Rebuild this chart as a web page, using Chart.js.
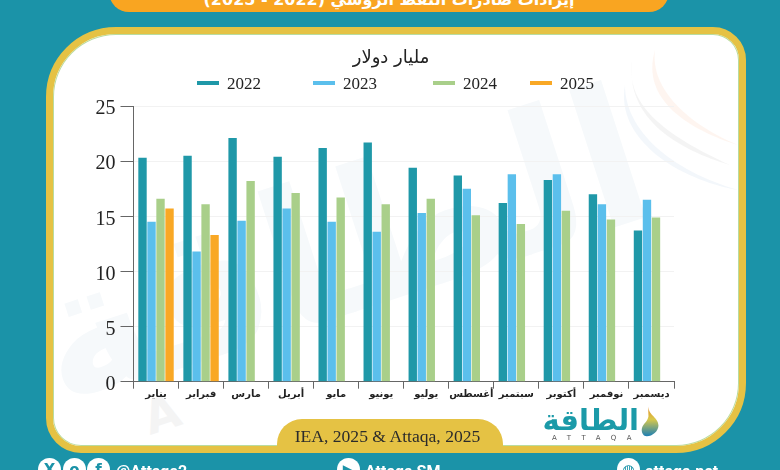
<!DOCTYPE html>
<html lang="ar">
<head>
<meta charset="utf-8">
<script src="https://cdn.jsdelivr.net/npm/chart.js@4"></script>
<style>
  html, body { margin: 0; padding: 0; }
  body { width: 780px; height: 470px; background: #1b93a8; position: relative; overflow: hidden; }
  .abs { position: absolute; }
  #pill { left: 109px; top: -30px; width: 560px; height: 42px; background: #f9a521; border-radius: 0 0 20px 20px; overflow: hidden; }
  #pill-text { position: absolute; left: 0; right: 0; bottom: 3px; text-align: center; direction: rtl; color: #fff; font: bold 16px "DejaVu Sans"; white-space: nowrap; }
  #panel { left: 46px; top: 27px; width: 686px; height: 412px; background: #fff; border: 7px solid #e5c244; border-radius: 70px 33px 70px 35px; box-shadow: inset 0 0 0 1px #b9dca0; }
  #mark { left: 0; top: 0; }
  #chart { left: 0; top: 0; }
  .legend-item { position: absolute; top: 74px; height: 20px; font: 17px "Liberation Serif"; color: #222; line-height: 20px; white-space: nowrap; }
  .legend-item i { display: inline-block; width: 22px; height: 4px; margin-right: 8px; vertical-align: 4px; }
  .legend-item:nth-of-type(1) { left: 197px; }
  .legend-item:nth-of-type(2) { left: 313px; }
  .legend-item:nth-of-type(3) { left: 433px; }
  .legend-item:nth-of-type(4) { left: 530px; }
  #source { left: 277px; top: 419px; width: 221px; padding-right: 5px; height: 31px; background: #e5c244; border-radius: 25px 25px 0 0; text-align: center; font: 17.6px/34px "Liberation Serif"; color: #2b2b2b; }
  #logo { left: 545px; top: 402px; width: 94px; text-align: center; color: #1b9aa8; font: bold 29px/36px "DejaVu Sans"; direction: rtl; }
  #logo-en { left: 552px; top: 434px; font: 7px "DejaVu Sans"; letter-spacing: 10.5px; color: #555; white-space: nowrap; }
  .foot { top: 462px; color: #fff; font: bold 16px/20px Roboto; white-space: nowrap; }
  .dot { top: 458px; width: 23px; height: 23px; border-radius: 50%; background: #fff; color: #1b93a8; font: bold 15px/24px "DejaVu Sans"; text-align: center; }
</style>
</head>
<body>
<div id="pill" class="abs"><div id="pill-text">إيرادات صادرات النفط الروسي (2022 - 2025)</div></div>
<div id="panel" class="abs"></div>

<svg id="mark" class="abs" width="780" height="470">
  <path d="M632 60 C625 105 665 135 730 165 C680 150 625 120 632 60Z" fill="#ececec" opacity="0.6"/>
  <path d="M655 50 C650 90 690 125 738 145 C690 130 640 100 655 50Z" fill="#fdeee6" opacity="0.6"/>
  <path d="M625 85 C625 130 670 170 738 190 C680 180 615 140 625 85Z" fill="#eef4f9" opacity="0.7"/>
  <text x="360" y="310" font-family="DejaVu Sans" font-weight="bold" font-size="190" fill="#f6f9fb" text-anchor="middle" transform="rotate(-18 360 310)">الطاقة</text>
  <text x="150" y="435" font-family="DejaVu Sans" font-weight="bold" font-size="46" fill="#f4f4f4" transform="rotate(-18 150 435)">A</text>
</svg>

<canvas id="chart" class="abs" width="780" height="470"></canvas>
<div id="legend"></div>

<div id="source" class="abs">IEA, 2025 &amp; Attaqa, 2025</div>
<div id="logo" class="abs">الطاقة</div>
<div id="logo-en" class="abs">ATTAQA</div>
<svg class="abs" style="left:640px;top:404px" width="20" height="33" viewBox="0 0 26 46" preserveAspectRatio="none">
  <defs><linearGradient id="drop" x1="0" y1="0" x2="0" y2="1">
    <stop offset="0" stop-color="#e58a2a"/><stop offset="0.45" stop-color="#d8c84a"/><stop offset="1" stop-color="#1b7fb5"/>
  </linearGradient></defs>
  <path d="M12 2 C8 14 24 18 24 30 C24 38 16 45 9 45 C3 45 1 37 3 32 C5 27 10 24 11 17 C11 12 10 7 12 2Z" fill="url(#drop)"/>
</svg>

<div class="dot abs" style="left:38px">X</div>
<div class="dot abs" style="left:63px">o</div>
<div class="dot abs" style="left:87px">f</div>
<div class="foot abs" style="left:116px">@Attaqa2</div>
<div class="dot abs" style="left:337px">▶</div>
<div class="foot abs" style="left:365px">Attaqa SM</div>
<div class="dot abs" style="left:617px">◍</div>
<div class="foot abs" style="left:645px">attaqa.net</div>

<script>
const months = ["يناير", "فبراير", "مارس", "أبريل", "مايو", "يونيو", "يوليو", "أغسطس", "سبتمبر", "أكتوبر", "نوفمبر", "ديسمبر"];
const values_2022 = [20.3, 20.5, 22.1, 20.4, 21.2, 21.7, 19.4, 18.7, 16.2, 18.3, 17.0, 13.7];
const values_2023 = [14.5, 11.8, 14.6, 15.7, 14.5, 13.6, 15.3, 17.5, 18.8, 18.8, 16.1, 16.5];
const values_2024 = [16.6, 16.1, 18.2, 17.1, 16.7, 16.1, 16.6, 15.1, 14.3, 15.5, 14.7, 14.9];
const values_2025 = [15.7, 13.3, null, null, null, null, null, null, null, null, null, null];
const y_ticks = [0, 5, 10, 15, 20, 25];

const makeSet = (label, data, color) => ({
  label: label,
  data: data,
  backgroundColor: color,
  barPercentage: 0.93,
  categoryPercentage: 0.8,
});

// title sits in the middle of the page, not of the plot
const centerTitle = {
  id: "centerTitle",
  afterLayout: (chart) => {
    chart.titleBlock.left = 0;
    chart.titleBlock.right = 782;
  },
};

const chart = new Chart(document.getElementById("chart"), {
  type: "bar",
  data: {
    labels: months,
    datasets: [
      makeSet("2022", values_2022, "#1f98a8"),
      makeSet("2023", values_2023, "#5bbfec"),
      makeSet("2024", values_2024, "#a9cf8a"),
      makeSet("2025", values_2025, "#f9a825"),
    ],
  },
  plugins: [centerTitle],
  options: {
    responsive: false,
    animation: false,
    layout: { padding: { right: 106, left: 0, top: 0, bottom: 0 } },
    plugins: {
      legend: { display: false },
      tooltip: { enabled: false },
      title: {
        display: true,
        text: "مليار دولار",
        color: "#222",
        font: { family: "DejaVu Sans", size: 18, weight: "normal", lineHeight: 1.2 },
        padding: { top: 48, bottom: 36.4 },
      },
    },
    scales: {
      x: {
        offset: true,
        grid: { drawOnChartArea: false, tickLength: 7, tickColor: "#666", offset: true },
        border: { color: "#666" },
        ticks: {
          color: "#222",
          font: { family: "DejaVu Sans", size: 10, weight: "bold" },
          maxRotation: 0,
          autoSkip: false,
          padding: 0,
        },
        afterFit: (scale) => { scale.height = 88.3; },
      },
      y: {
        min: 0,
        max: 25,
        afterBuildTicks: (scale) => { scale.ticks = y_ticks.map((v) => ({ value: v })); },
        grid: { color: "#f2f2f2", tickLength: 13, tickColor: "#666" },
        border: { color: "#666" },
        ticks: {
          color: "#222",
          font: { family: "Liberation Serif", size: 20 },
          padding: 5,
          labelOffset: 3,
        },
        afterFit: (scale) => { scale.width = 133.5; },
      },
    },
  },
});

// legend is spaced unevenly in the original so it's built by hand
const legend = document.getElementById("legend");
chart.data.datasets.forEach((ds) => {
  legend.innerHTML += `<div class="legend-item"><i style="background:${ds.backgroundColor}"></i>${ds.label}</div>`;
});
</script>
</body>
</html>
